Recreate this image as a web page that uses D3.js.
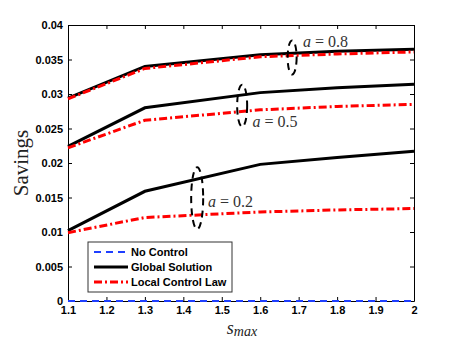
<!DOCTYPE html>
<html>
<head>
<meta charset="utf-8">
<script src="https://cdn.jsdelivr.net/npm/d3@7"></script>
<style>
  body { margin: 0; background: #fff; }
  .tick text { font-family: 'Liberation Sans', Arial, sans-serif; font-weight: bold; font-size: 11px; fill: #000; }
</style>
</head>
<body>
<div id="chart"></div>
<script>
// s_max values where the curves were evaluated
const smax = [1.1, 1.3, 1.6, 1.8, 2.0];

// savings per series
const noControl = [0, 0, 0, 0, 0];
const global02 = [0.0102, 0.0159, 0.0198, 0.0208, 0.0217];
const local02 = [0.0099, 0.0121, 0.0129, 0.0132, 0.0134];
const global05 = [0.0224, 0.0280, 0.0302, 0.0309, 0.0314];
const local05 = [0.0222, 0.0262, 0.0277, 0.0282, 0.0285];
const global08 = [0.0294, 0.0340, 0.0357, 0.0362, 0.0365];
const local08 = [0.0293, 0.0337, 0.0354, 0.0358, 0.0361];

const xTicks = [1.1, 1.2, 1.3, 1.4, 1.5, 1.6, 1.7, 1.8, 1.9, 2];
const yTicks = [0, 0.005, 0.01, 0.015, 0.02, 0.025, 0.03, 0.035, 0.04];

// annotation: label, ellipse centre (s_max, savings), radii in px, label position
const notes = [
  {a: '0.8', cx: 1.683, cy: 0.0353, ry: 17, rx: 4.5, lx: 1.711, ly: 0.0368},
  {a: '0.5', cx: 1.553, cy: 0.0283, ry: 21, rx: 5, lx: 1.58, ly: 0.0252},
  {a: '0.2', cx: 1.436, cy: 0.0149, ry: 31, rx: 6, lx: 1.464, ly: 0.0136}
];

const width = 457, height = 339;
const margin = {top: 25, right: 43, bottom: 38, left: 68};
const w = width - margin.left - margin.right;
const h = height - margin.top - margin.bottom;

const svg = d3.select('#chart').append('svg')
  .attr('width', width)
  .attr('height', height);
svg.append('rect').attr('width', width).attr('height', height).attr('fill', '#fff');

const g = svg.append('g')
  .attr('transform', 'translate(' + margin.left + ',' + margin.top + ')');

const x = d3.scaleLinear().domain([1.1, 2]).range([0, w]);
const y = d3.scaleLinear().domain([0, 0.04]).range([h, 0]);

// axes with inward ticks, mirrored on top and right
const fmtY = d => d === 0 ? '0' : String(+d.toFixed(3));
const fmtX = d => d === 2 ? '2' : d.toFixed(1);

g.append('g').attr('transform', 'translate(0,' + h + ')')
  .call(d3.axisBottom(x).tickValues(xTicks).tickSizeInner(-4).tickSizeOuter(0).tickPadding(5).tickFormat(fmtX));
g.append('g')
  .call(d3.axisLeft(y).tickValues(yTicks).tickSizeInner(-4).tickSizeOuter(0).tickPadding(5).tickFormat(fmtY));
g.append('g')
  .call(d3.axisTop(x).tickValues(xTicks).tickSizeInner(-4).tickSizeOuter(0).tickFormat(''));
g.append('g').attr('transform', 'translate(' + w + ',0)')
  .call(d3.axisRight(y).tickValues(yTicks).tickSizeInner(-4).tickSizeOuter(0).tickFormat(''));
g.selectAll('.domain').attr('stroke', '#000');
g.selectAll('.tick line').attr('stroke', '#000');

const line = d3.line().x((d, i) => x(smax[i])).y(d => y(d));

const series = [
  {v: global02, color: '#000', dash: null},
  {v: local02, color: '#ff0000', dash: '8,3,2,3'},
  {v: global05, color: '#000', dash: null},
  {v: local05, color: '#ff0000', dash: '8,3,2,3'},
  {v: global08, color: '#000', dash: null},
  {v: local08, color: '#ff0000', dash: '8,3,2,3'},
  {v: noControl, color: '#1f3fff', dash: '7,5'}
];

g.selectAll('path.series')
  .data(series)
  .enter()
  .append('path')
  .attr('class', 'series')
  .attr('d', d => line(d.v))
  .attr('fill', 'none')
  .attr('stroke', d => d.color)
  .attr('stroke-width', d => d.color === '#1f3fff' ? 2 : 3)
  .attr('stroke-dasharray', d => d.dash);

// dashed ellipses and labels
notes.forEach(n => {
  g.append('ellipse')
    .attr('cx', x(n.cx)).attr('cy', y(n.cy))
    .attr('rx', n.rx).attr('ry', n.ry)
    .attr('fill', 'none').attr('stroke', '#000')
    .attr('stroke-width', 2).attr('stroke-dasharray', '7,5');
  const t = g.append('text')
    .attr('x', x(n.lx)).attr('y', y(n.ly))
    .attr('font-family', "'Liberation Serif', 'DejaVu Serif', serif")
    .attr('font-size', 16).attr('fill', '#333');
  t.append('tspan').attr('font-style', 'italic').text('a');
  t.append('tspan').text(' = ' + n.a);
});

// legend
const leg = g.append('g').attr('transform', 'translate(20,217)');
leg.append('rect').attr('width', 144).attr('height', 50)
  .attr('fill', '#fff').attr('stroke', '#333').attr('stroke-width', 1);
const items = [
  {label: 'No Control', color: '#1f3fff', dash: '7,5', sw: 2},
  {label: 'Global Solution', color: '#000', dash: null, sw: 3},
  {label: 'Local Control Law', color: '#ff0000', dash: '8,3,2,3', sw: 3}
];
items.forEach((it, i) => {
  const yy = 10 + i * 15;
  leg.append('line').attr('x1', 6).attr('x2', 40).attr('y1', yy).attr('y2', yy)
    .attr('stroke', it.color).attr('stroke-width', it.sw).attr('stroke-dasharray', it.dash);
  leg.append('text').attr('x', 43).attr('y', yy + 4)
    .attr('font-family', "'Liberation Sans', Arial, sans-serif")
    .attr('font-weight', 'bold').attr('font-size', 11).text(it.label);
});

// axis titles
svg.append('text')
  .attr('transform', 'translate(28,' + (margin.top + h / 2) + ') rotate(-90)')
  .attr('text-anchor', 'middle')
  .attr('font-family', "'Liberation Serif', 'DejaVu Serif', serif")
  .attr('font-size', 21).attr('fill', '#222')
  .text('Savings');

const xl = svg.append('text')
  .attr('x', 242).attr('y', 334)
  .attr('text-anchor', 'middle')
  .attr('font-family', "'Liberation Serif', 'DejaVu Serif', serif")
  .attr('font-style', 'italic').attr('fill', '#222');
xl.append('tspan').attr('font-size', 18).text('s');
xl.append('tspan').attr('font-size', 14).attr('dy', 2).text('max');
</script>
</body>
</html>
